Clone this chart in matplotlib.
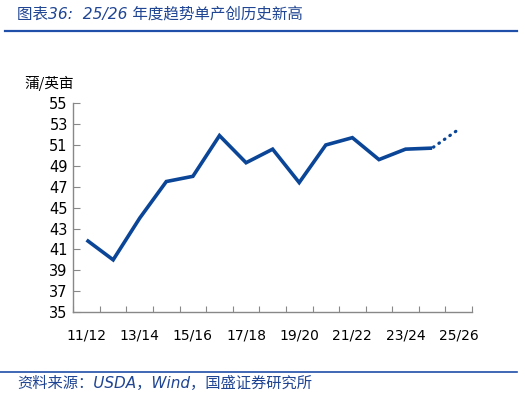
import matplotlib
matplotlib.use('Agg')
import matplotlib.pyplot as plt
from matplotlib.lines import Line2D

plt.rcParams['font.family'] = ['DejaVu Sans', 'Noto Sans CJK SC']

# Soybean yield (bu/acre), 25/26 is the trend projection
seasons = ['11/12', '12/13', '13/14', '14/15', '15/16', '16/17', '17/18', '18/19',
           '19/20', '20/21', '21/22', '22/23', '23/24', '24/25', '25/26']
yields = [41.9, 40.0, 44.0, 47.5, 48.0, 51.9, 49.3, 50.6, 47.4, 51.0, 51.7, 49.6,
          50.6, 50.7, 52.5]
n_actual = 14  # last point is the projection (dotted)

LINE = '#0a4597'
TEXT_BLUE = '#1f4593'

fig = plt.figure(figsize=(5.25, 3.97), dpi=100)
ax = fig.add_axes([0.1396, 0.214, 0.7594, 0.526])

x = list(range(len(seasons)))
ax.plot(x[:n_actual], yields[:n_actual], color=LINE, lw=2.6,
        solid_joinstyle='miter', solid_capstyle='butt')
ax.plot(x[n_actual - 1:], yields[n_actual - 1:], color=LINE, lw=2.3,
        linestyle=(1.6, (0.2, 1.9)), dash_capstyle='round')

ax.set_xlim(-0.5, len(seasons) - 0.5)
ax.set_ylim(35, 55)
ax.set_yticks(range(35, 56, 2))
ax.set_xticks([i - 0.5 for i in range(len(seasons) + 1)])
ax.set_xticklabels([])
ax.set_xticks(x[::2], minor=True)
ax.set_xticklabels(seasons[::2], minor=True)
ax.tick_params(axis='x', which='minor', length=0, pad=12, labelsize=10)
ax.tick_params(axis='x', which='major', direction='in', length=4, color='#888888')
ax.tick_params(axis='y', direction='in', length=5, color='#888888', labelsize=10.5, pad=4)

for s in ['top', 'right']:
    ax.spines[s].set_visible(False)
for s in ['left', 'bottom']:
    ax.spines[s].set_color('#888888')
    ax.spines[s].set_linewidth(1.0)

fig.text(0.046, 0.778, '蒲/英亩', fontsize=10.5, family=['Noto Sans CJK SC'])

# title, rules and source
fig.text(0.033, 0.965, '图表36:  25/26 年度趋势单产创历史新高', fontsize=11.2,
         style='italic', color=TEXT_BLUE, va='center')
fig.add_artist(Line2D([0.01, 0.985], [0.923, 0.923], color='#1f4fa8', lw=1.6))
fig.add_artist(Line2D([0.0, 0.985], [0.063, 0.063], color='#1f4fa8', lw=1.2))
fig.text(0.033, 0.034, '资料来源：USDA，Wind，国盛证券研究所', fontsize=11,
         style='italic', color=TEXT_BLUE, va='center')

fig.savefig('out.png', dpi=100)
plt.close(fig)
